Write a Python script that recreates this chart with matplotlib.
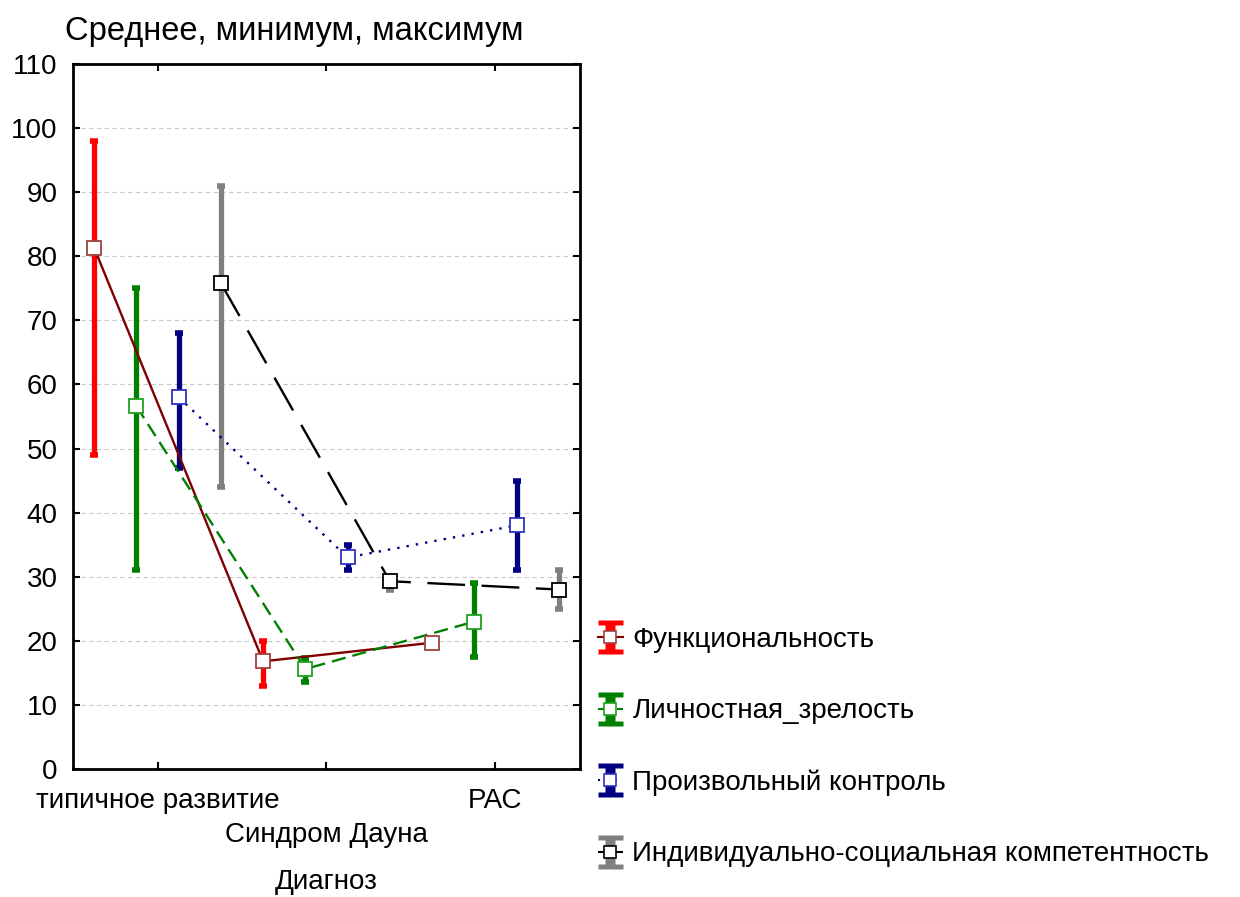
import numpy as np
import matplotlib
matplotlib.use('Agg')
import matplotlib.pyplot as plt
from matplotlib.path import Path
from matplotlib.lines import Line2D
from matplotlib.legend_handler import HandlerTuple

plt.rcParams['font.family'] = ['Liberation Sans', 'DejaVu Sans']

groups = ['типичное развитие', 'Синдром Дауна', 'РАС']
series = ['Функциональность', 'Личностная_зрелость', 'Произвольный контроль',
          'Индивидуально-социальная компетентность']

# mean, min, max per group
mean_func = [81.3, 16.8, 19.7]
min_func = [49, 13, 19.7]
max_func = [98, 20, 19.7]

mean_lich = [56.6, 15.6, 23.0]
min_lich = [31, 13.6, 17.5]
max_lich = [75, 17.3, 29]

mean_proiz = [58.0, 33.0, 38.0]
min_proiz = [47, 31, 31]
max_proiz = [68, 35, 45]

mean_ind = [75.8, 29.3, 28.0]
min_ind = [44, 28, 25]
max_ind = [91, 30, 31]

means = [mean_func, mean_lich, mean_proiz, mean_ind]
mins = [min_func, min_lich, min_proiz, min_ind]
maxs = [max_func, max_lich, max_proiz, max_ind]

bar_colors = ['#ff0000', '#008000', '#000080', '#808080']
line_colors = ['#800000', '#008000', '#000080', '#000000']
edge_colors = ['#a04040', '#20a020', '#3030c0', '#000000']
line_styles = ['-', (0, (6, 3)), (0, (1, 3)), (0, (16, 7))]
offsets = [-0.375, -0.125, 0.125, 0.375]

FS = 20

fig = plt.figure(figsize=(12.4, 8.97), dpi=100)
ax = fig.add_axes([0.0589, 0.1427, 0.4088, 0.786])

x = np.arange(1, 4)
for i in range(4):
    m = np.array(means[i])
    lo = m - np.array(mins[i])
    hi = np.array(maxs[i]) - m
    ls = line_styles[i]
    ax.errorbar(x + offsets[i], m, yerr=[lo, hi], fmt='none', ecolor=bar_colors[i],
                elinewidth=3.8, capsize=3, capthick=4, zorder=2)
    ax.plot(x + offsets[i], m, color=line_colors[i], linestyle=ls, lw=1.7, zorder=3)
    ax.plot(x + offsets[i], m, 's', ms=9.5, mfc='white', mec=edge_colors[i],
            mew=1.3, zorder=4)

# I-beam marker for the legend (error bar with caps)
ibeam = Path([(-0.75, 1), (0.75, 1), (0.75, 0.7), (0.3, 0.7), (0.3, -0.7),
              (0.75, -0.7), (0.75, -1), (-0.75, -1), (-0.75, -0.7), (-0.3, -0.7),
              (-0.3, 0.7), (-0.75, 0.7), (-0.75, 1)], closed=True)

handles = []
for i in range(4):
    bar = Line2D([], [], ls='none', marker=ibeam, ms=24, mfc=bar_colors[i],
                 mec='none')
    mline = Line2D([], [], color=line_colors[i], ls=line_styles[i], lw=1.5,
                   marker='s', ms=8.5, mfc='white', mec=edge_colors[i], mew=1.2)
    handles.append((bar, mline))
fig.legend(handles, series, loc='upper left', bbox_to_anchor=(0.482, 0.301),
           frameon=False, fontsize=FS, handlelength=0.9, handletextpad=0.35,
           labelspacing=1.63, borderpad=0, borderaxespad=0,
           handler_map={tuple: HandlerTuple(ndivide=1)})

ax.set_xlim(0.5, 3.5)
ax.set_ylim(0, 110)
ax.set_yticks(np.arange(0, 111, 10))
ax.set_xticks(x)
ax.set_xticklabels(groups)
ax.yaxis.grid(True, linestyle=(0, (4, 3)), color='#c8c8c8', lw=0.8)
ax.set_axisbelow(True)
ax.tick_params(direction='in', length=5, width=1.5, labelsize=FS,
               top=True, right=True)
ax.tick_params(axis='y', pad=11)
ax.tick_params(axis='x', pad=14)
# stagger the middle category label
ax.xaxis.get_major_ticks()[1].set_pad(38.5)
for s in ax.spines.values():
    s.set_linewidth(2)
ax.set_xlabel('Диагноз', fontsize=FS, labelpad=15)
ax.set_title('Среднее, минимум, максимум', fontsize=23.5, loc='left', x=-0.015, pad=17)

fig.savefig('out.png', dpi=100)
